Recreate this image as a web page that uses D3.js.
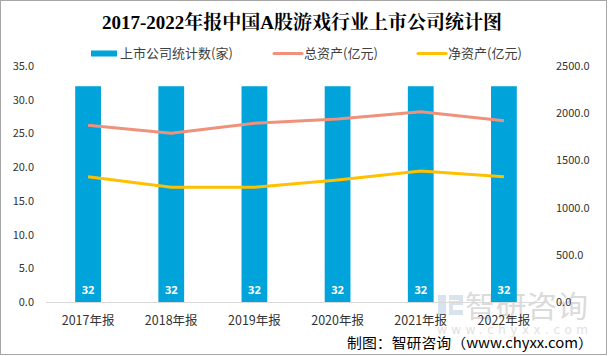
<!DOCTYPE html>
<html><head><meta charset="utf-8">
<script src="https://cdn.jsdelivr.net/npm/d3@7"></script>
<style>
body{margin:0;background:#fff;}
svg{display:block;}
</style></head>
<body>
<svg id="chart" width="608" height="356"></svg>
<script>
const categories = ["2017年报","2018年报","2019年报","2020年报","2021年报","2022年报"];
const companyCount = [32,32,32,32,32,32];
const totalAssets = [1872,1787,1893,1939,2016,1921];
const netAssets = [1327,1215,1215,1292,1388,1327];
const leftTicks = [0,5,10,15,20,25,30,35];
const rightTicks = [0,500,1000,1500,2000,2500];
const seriesNames = ["上市公司统计数(家)","总资产(亿元)","净资产(亿元)"];
const colors = {bar:"#00A3DA", total:"#F0917B", net:"#FFC000"};

const svg = d3.select("#chart");
const font = "'Noto Sans CJK SC','Noto Sans',sans-serif";

// frame
svg.append("rect").attr("x",0.5).attr("y",0.5).attr("width",606).attr("height",354)
  .attr("fill","#fff").attr("stroke","#a6a6a6");

const x = d3.scaleBand().domain(categories).range([46.5,545.5]).paddingInner(0.69).paddingOuter(0.345);
const yL = d3.scaleLinear().domain([0,35]).range([302,66]);
const yR = d3.scaleLinear().domain([0,2500]).range([302,66]);

// title
svg.append("text").attr("x",302).attr("y",29).attr("text-anchor","middle")
  .attr("font-family","'Liberation Serif','Noto Serif CJK SC',serif").attr("font-weight","bold")
  .attr("font-size",19).attr("fill","#000")
  .text("2017-2022年报中国A股游戏行业上市公司统计图");

// watermark
const wm = svg.append("g").attr("opacity",0.55);
wm.append("rect").attr("x",438).attr("y",295).attr("width",8).attr("height",20).attr("fill","#b9cde0");
wm.append("path").attr("d","M449,295 h14 v10 h-10 v5 h10 v5 h-14 v-14 h10 v-1 h-10 z").attr("fill","#b9cde0");
wm.append("text").attr("x",465).attr("y",317).attr("font-family",font).attr("font-size",30)
  .attr("fill","#bfbfbf").attr("textLength",123).attr("lengthAdjust","spacingAndGlyphs").text("智研咨询");
wm.append("text").attr("x",437).attr("y",334).attr("font-family","'DejaVu Sans',sans-serif").attr("font-size",12)
  .attr("fill","#c8c8c8").attr("textLength",151).attr("lengthAdjust","spacing").text("www.chyxx.com");

// left axis
const gL = svg.append("g").attr("transform","translate(34,0)")
  .call(d3.axisLeft(yL).tickValues(leftTicks).tickFormat(d3.format(".1f")).tickSize(0).tickPadding(0));
gL.select(".domain").remove();
gL.selectAll("text").attr("font-family",font).attr("font-size",11).attr("fill","#333");

// right axis
const gR = svg.append("g").attr("transform","translate(556,0)")
  .call(d3.axisRight(yR).tickValues(rightTicks).tickFormat(d3.format(".1f")).tickSize(0).tickPadding(0));
gR.select(".domain").remove();
gR.selectAll("text").attr("font-family",font).attr("font-size",11).attr("fill","#333");

// bars
svg.append("g").selectAll("rect").data(categories).join("rect")
  .attr("x",d=>x(d)).attr("width",x.bandwidth())
  .attr("y",(d,i)=>yL(companyCount[i])).attr("height",(d,i)=>yL(0)-yL(companyCount[i]))
  .attr("fill",colors.bar);

// bar labels
svg.append("g").selectAll("text").data(categories).join("text")
  .attr("x",d=>x(d)+x.bandwidth()/2).attr("y",293.5).attr("text-anchor","middle")
  .attr("font-family","'Open Sans','Noto Sans',sans-serif").attr("font-weight","bold")
  .attr("font-size",11).attr("fill","#fff")
  .text((d,i)=>companyCount[i]);

// x axis line
svg.append("line").attr("x1",46).attr("x2",546).attr("y1",302.5).attr("y2",302.5)
  .attr("stroke","#d9d9d9").attr("stroke-width",1);

// category labels
svg.append("g").selectAll("text").data(categories).join("text")
  .attr("x",d=>x(d)+x.bandwidth()/2).attr("y",325).attr("text-anchor","middle")
  .attr("font-family",font).attr("font-size",12.5).attr("fill","#333").text(d=>d);

// lines
const cx = d=>x(d)+x.bandwidth()/2;
const lineGen = arr => d3.line().x(d=>cx(d)).y((d,i)=>yR(arr[i]))(categories);
svg.append("path").attr("d",lineGen(totalAssets)).attr("fill","none")
  .attr("stroke",colors.total).attr("stroke-width",3).attr("stroke-linejoin","round");
svg.append("path").attr("d",lineGen(netAssets)).attr("fill","none")
  .attr("stroke",colors.net).attr("stroke-width",3).attr("stroke-linejoin","round");

// legend
const lg = svg.append("g");
lg.append("rect").attr("x",91).attr("y",50.5).attr("width",26).attr("height",6).attr("fill",colors.bar);
lg.append("text").attr("x",120).attr("y",58).attr("font-family",font).attr("font-size",13).attr("fill","#404040").text(seriesNames[0]);
lg.append("line").attr("x1",274).attr("x2",302).attr("y1",53.5).attr("y2",53.5).attr("stroke",colors.total).attr("stroke-width",3).attr("stroke-linecap","round");
lg.append("text").attr("x",304).attr("y",58).attr("font-family",font).attr("font-size",13).attr("fill","#404040").text(seriesNames[1]);
lg.append("line").attr("x1",418).attr("x2",446).attr("y1",53.5).attr("y2",53.5).attr("stroke",colors.net).attr("stroke-width",3).attr("stroke-linecap","round");
lg.append("text").attr("x",448).attr("y",58).attr("font-family",font).attr("font-size",13).attr("fill","#404040").text(seriesNames[2]);

// footer
svg.append("text").attr("x",347).attr("y",348).attr("font-family","'Noto Sans CJK SC',serif")
  .attr("font-size",14).attr("fill","#000").attr("textLength",246).attr("lengthAdjust","spacingAndGlyphs")
  .text("制图：智研咨询（www.chyxx.com）");
</script>
</body></html>
